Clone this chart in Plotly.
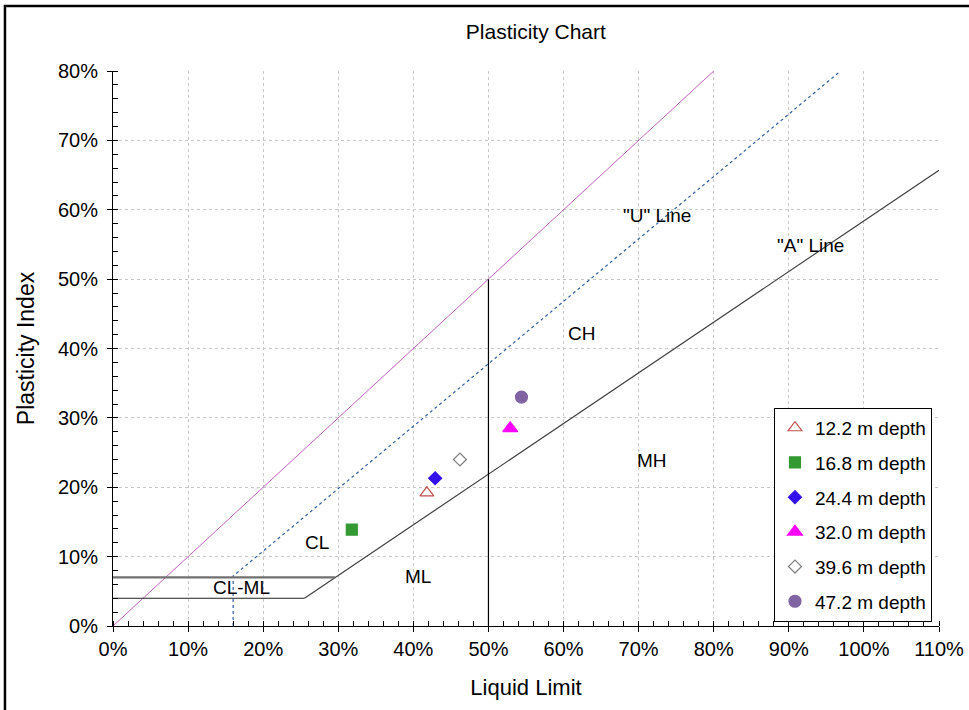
import plotly.graph_objects as go

# Sample results (liquid limit and plasticity index, in percent)
depth_labels = ["12.2 m depth", "16.8 m depth", "24.4 m depth",
                "32.0 m depth", "39.6 m depth", "47.2 m depth"]
liquid_limit = [41.8, 31.8, 42.9, 52.9, 46.2, 54.4]
plasticity_index = [19.2, 13.9, 21.3, 28.5, 24.0, 33.0]

marker_symbols = ["triangle-up-open", "square", "diamond",
                  "triangle-up", "diamond-open", "circle"]
marker_colors = ["#c0504d", "#339933", "#3311ee",
                 "#ff00ff", "#7f7f7f", "#8064a2"]
marker_sizes = [12, 11, 10, 13, 10, 12]

# Reference lines of the plasticity chart (LL, PI endpoints)
upper_bound_ll = [0, 80]
upper_bound_pi = [0, 80]
u_line_ll = [16, 16, 96.9]
u_line_pi = [0, 7.2, 80]
a_line_ll = [25.5, 110]
a_line_pi = [4.0, 65.7]
ll50_ll = [50, 50]
ll50_pi = [0, 50]
pi7_ll = [0, 29.6]
pi7_pi = [7, 7]
pi4_ll = [0, 25.5]
pi4_pi = [4, 4]

# Zone labels
zone_text = ['"U" Line', '"A" Line', "CH", "MH", "CL", "ML", "CL-ML"]
zone_ll = [72.4, 92.9, 62.4, 71.8, 27.1, 40.6, 17.1]
zone_pi = [59.2, 54.8, 42.1, 23.9, 12.0, 7.1, 5.5]

FONT = "Liberation Sans, Arial, sans-serif"

fig = go.Figure()

def ref_line(x, y, color, width, dash="solid"):
    fig.add_trace(go.Scatter(x=x, y=y, mode="lines", showlegend=False,
                             hoverinfo="skip",
                             line=dict(color=color, width=width, dash=dash)))

ref_line(upper_bound_ll, upper_bound_pi, "#c060c0", 1)
ref_line(u_line_ll, u_line_pi, "#2f5f9f", 1.2, "dot")
ref_line(a_line_ll, a_line_pi, "#404040", 1.2)
ref_line(ll50_ll, ll50_pi, "#000000", 1.2)
ref_line(pi7_ll, pi7_pi, "#707070", 2.2)
ref_line(pi4_ll, pi4_pi, "#202020", 1.2)

for i, name in enumerate(depth_labels):
    fig.add_trace(go.Scatter(
        x=[liquid_limit[i]], y=[plasticity_index[i]], mode="markers",
        name=name, legendgroup=name,
        marker=dict(symbol=marker_symbols[i], color=marker_colors[i],
                    size=marker_sizes[i],
                    line=dict(color=marker_colors[i], width=1.2)),
    ))

for t, x, y in zip(zone_text, zone_ll, zone_pi):
    fig.add_annotation(x=x, y=y, text=t, showarrow=False,
                       font=dict(family=FONT, size=19, color="#000000"))

# outer frame around the whole chart
fig.add_shape(type="rect", xref="paper", yref="paper",
              x0=-0.1308, x1=1.2, y0=-0.3, y1=1.117,
              line=dict(color="#000000", width=2.5), layer="above")

axis_common = dict(
    showgrid=True, gridcolor="#c8c8c8", griddash="dot", gridwidth=1,
    showline=True, linecolor="#000000", linewidth=1,
    ticks="outside", ticklen=5, tickcolor="#000000",
    ticksuffix="%", zeroline=False, automargin=False,
    tickfont=dict(family=FONT, size=20, color="#000000"),
)

fig.update_xaxes(
    range=[0, 110], dtick=10, tick0=0,
    minor=dict(dtick=2, ticks="inside", ticklen=5, tickcolor="#000000",
               showgrid=False),
    title=dict(text="Liquid Limit", standoff=20,
               font=dict(family=FONT, size=22, color="#000000")),
    **axis_common,
)
fig.update_yaxes(
    range=[0, 80], dtick=10, tick0=0,
    ticklabelstandoff=5,
    minor=dict(dtick=2, ticks="inside", ticklen=5, tickcolor="#000000",
               showgrid=False),
    title=dict(text="Plasticity Index", standoff=16,
               font=dict(family=FONT, size=23, color="#000000")),
    **axis_common,
)

fig.update_layout(
    width=969, height=710,
    margin=dict(l=113, r=30, t=71, b=84),
    paper_bgcolor="#ffffff", plot_bgcolor="#ffffff",
    title=dict(text="Plasticity Chart", x=0.553, xanchor="center",
               y=0.955, yanchor="middle",
               font=dict(family=FONT, size=21, color="#000000")),
    legend=dict(x=0.9915, y=0.393, xanchor="right", yanchor="top",
                bgcolor="#ffffff", bordercolor="#000000", borderwidth=1,
                font=dict(family=FONT, size=19, color="#000000"),
                tracegroupgap=7, itemwidth=30),
    showlegend=True,
)

fig.write_html("out.html")
